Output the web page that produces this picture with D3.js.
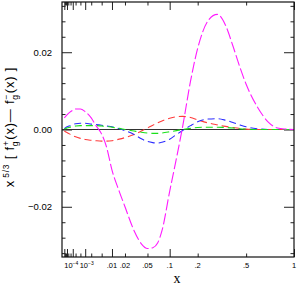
<!DOCTYPE html>
<html>
<head>
<meta charset="utf-8">
<script src="https://cdn.jsdelivr.net/npm/d3@7"></script>
<style>
  body { margin: 0; background: #fff; }
  svg { display: block; }
  text { font-family: "Liberation Sans", Arial, sans-serif; fill: #000; }
</style>
</head>
<body>
<svg id="chart" width="297" height="287"></svg>
<script>
// x grid (momentum fraction) shared by all curves
const xs = [1e-6, 1e-5, 4e-5, 1e-4, 2e-4, 5e-4, 1e-3, 2e-3, 3e-3, 5e-3, 7e-3, 0.01, 0.015, 0.02, 0.03, 0.04, 0.05,
            0.06, 0.07, 0.08, 0.1, 0.12, 0.14, 0.17, 0.2, 0.25, 0.3, 0.35, 0.4, 0.45, 0.5, 0.6, 0.7, 0.8, 0.9, 1.0]

const magenta = [0.0030, 0.0038, 0.0045, 0.0050, 0.0053, 0.0053, 0.0046, 0.0030, 0.0012, -0.0012, -0.0044, -0.0105, -0.0160, -0.0200, -0.0262, -0.0296, -0.0308,
                 -0.0306, -0.0294, -0.0262, -0.0160, -0.0075, 0.0005, 0.0125, 0.0210, 0.0282, 0.0298, 0.0270, 0.0216, 0.0162, 0.0117, 0.0057, 0.0020, 0.0004, 0.0001, 0]
const red     = [-0.0004, -0.0008, -0.0012, -0.0016, -0.0019, -0.0023, -0.0026, -0.0028, -0.0029, -0.0030, -0.0030, -0.0029, -0.0025, -0.0021, -0.0013, -0.0004, 0.0004,
                 0.0011, 0.0017, 0.0022, 0.0029, 0.0033, 0.0034, 0.0031, 0.0025, 0.0017, 0.0012, 0.0008, 0.0005, 0.0003, 0.0001, 0, 0, 0, 0, 0]
const blue    = [0.0002, 0.0007, 0.0010, 0.0013, 0.0015, 0.0016, 0.0016, 0.0014, 0.0013, 0.0011, 0.0009, 0.0007, 0.0002, -0.0003, -0.0013, -0.0024, -0.0031,
                 -0.0034, -0.0035, -0.0033, -0.0025, -0.0013, -0.0003, 0.0010, 0.0020, 0.0027, 0.0028, 0.0024, 0.0018, 0.0012, 0.0007, 0.0002, 0, 0, 0, 0]
const green   = [0.0001, 0.0004, 0.0006, 0.0008, 0.0009, 0.0010, 0.0010, 0.0010, 0.0010, 0.0009, 0.0008, 0.0006, 0.0003, 0.0000, -0.0004, -0.0007, -0.0009,
                 -0.0010, -0.0010, -0.0009, -0.0006, -0.0003, 0.0000, 0.0003, 0.0005, 0.0006, 0.0006, 0.0005, 0.0004, 0.0002, 0.0001, 0, 0, 0, 0, 0]

const xLabels = [[1e-4, '10', '−4'], [1e-3, '10', '−3'], [0.01, '.01'], [0.02, '.02'], [0.05, '.05'],
                 [0.1, '.1'], [0.2, '.2'], [0.5, '.5'], [1, '1']]
const yLabels = [[0.02, '0.02'], [0, '0.00'], [-0.02, '−0.02']]

const series = [
    {vals: red, color: '#ff3b3b', dash: '7,4'},
    {vals: blue, color: '#2b2bff', dash: '7,4'},
    {vals: green, color: '#19e019', dash: '7,4'},
    {vals: magenta, color: '#ff1aff', dash: '11,3'}
]

const svg = d3.select('#chart')
const mLeft = 62, mRight = 294, mTop = 2, mBottom = 257

const x = d3.scalePow().exponent(1 / 3).domain([0, 1]).range([mLeft, mRight])
const y = d3.scaleLinear().domain([-0.033, 0.033]).range([mBottom, mTop])

// x ticks: 1,2,5 per decade, long at decades
const xMajor = d3.range(-6, 1).map(n => Math.pow(10, n))
const xMinor = []
d3.range(-6, 0).forEach(n => { xMinor.push(2 * Math.pow(10, n), 5 * Math.pow(10, n)) })

const g = svg.append('g')

function xTicks(vals, len){
    g.append('g')
        .attr('transform', `translate(0,${mBottom})`)
        .call(d3.axisBottom(x).tickValues(vals).tickSizeInner(-len).tickSizeOuter(0).tickFormat(''))
    g.append('g')
        .attr('transform', `translate(0,${mTop})`)
        .call(d3.axisTop(x).tickValues(vals).tickSizeInner(-len).tickSizeOuter(0).tickFormat(''))
}
xTicks(xMajor, 8)
xTicks(xMinor, 3.5)

const yMajor = [-0.02, 0, 0.02]
const yMinor = d3.range(-0.032, 0.0321, 0.004).filter(v => !yMajor.some(m => Math.abs(m - v) < 1e-9))

function yTicks(vals, len){
    g.append('g')
        .attr('transform', `translate(${mLeft},0)`)
        .call(d3.axisLeft(y).tickValues(vals).tickSizeInner(-len).tickSizeOuter(0).tickFormat(''))
    g.append('g')
        .attr('transform', `translate(${mRight},0)`)
        .call(d3.axisRight(y).tickValues(vals).tickSizeInner(-len).tickSizeOuter(0).tickFormat(''))
}
yTicks(yMajor, 10)
yTicks(yMinor, 3.5)

g.selectAll('.domain').remove()
g.selectAll('.tick line').attr('stroke', '#222').attr('stroke-width', 1)

// zero line
svg.append('line')
    .attr('x1', mLeft).attr('x2', mRight)
    .attr('y1', y(0)).attr('y2', y(0))
    .attr('stroke', '#333').attr('stroke-width', 1.2)

// curves
const line = d3.line()
    .x((d, i) => x(xs[i]))
    .y(d => y(d))
    .curve(d3.curveMonotoneX)

svg.append('g').selectAll('path')
    .data(series)
    .enter()
    .append('path')
    .attr('d', s => line(s.vals))
    .attr('fill', 'none')
    .attr('stroke', s => s.color)
    .attr('stroke-width', 1.1)
    .attr('stroke-dasharray', s => s.dash)

// frame
svg.append('rect')
    .attr('x', mLeft).attr('y', mTop)
    .attr('width', mRight - mLeft).attr('height', mBottom - mTop)
    .attr('fill', 'none').attr('stroke', '#111').attr('stroke-width', 1.2)

// tick labels (the two power labels nearly touch, nudge them apart)
const xl = svg.append('g').selectAll('text')
    .data(xLabels)
    .enter()
    .append('text')
    .attr('x', d => x(d[0]) + (d[0] === 1e-4 ? -1.5 : d[0] === 1e-3 ? 1.5 : 0))
    .attr('y', 268)
    .attr('text-anchor', 'middle')
    .style('font-size', '7.5px')
xl.append('tspan').text(d => d[1])
xl.filter(d => d[2]).append('tspan')
    .attr('dy', -3.5)
    .style('font-size', '5px')
    .text(d => d[2])

svg.append('g').selectAll('text')
    .data(yLabels)
    .enter()
    .append('text')
    .attr('x', 52)
    .attr('y', d => y(d[0]) + 3.5)
    .attr('text-anchor', 'end')
    .style('font-size', '9.5px')
    .text(d => d[1])

// axis titles
svg.append('text')
    .attr('x', 177).attr('y', 283)
    .attr('text-anchor', 'middle')
    .style('font-family', '"Liberation Serif", "Times New Roman", serif')
    .style('font-size', '14px')
    .text('x')

const yt = svg.append('text')
    .attr('transform', 'translate(14,127) rotate(-90)')
    .attr('text-anchor', 'middle')
    .style('font-size', '13px')
    .style('letter-spacing', '0.8px')
yt.append('tspan').text('x')
yt.append('tspan').attr('dx', 2).attr('dy', -5).style('font-size', '8.5px').text('5/3')
yt.append('tspan').attr('dy', 5).text(' [ f')
yt.append('tspan').attr('dy', -5).style('font-size', '8.5px').text('+')
yt.append('tspan').attr('dx', -6).attr('dy', 9).style('font-size', '8.5px').text('g')
yt.append('tspan').attr('dx', 1).attr('dy', -4).text('(x)— f')
yt.append('tspan').attr('dy', -5).style('font-size', '8.5px').text('−')
yt.append('tspan').attr('dx', -6).attr('dy', 9).style('font-size', '8.5px').text('g')
yt.append('tspan').attr('dx', 1).attr('dy', -4).text('(x) ]')
</script>
</body>
</html>
